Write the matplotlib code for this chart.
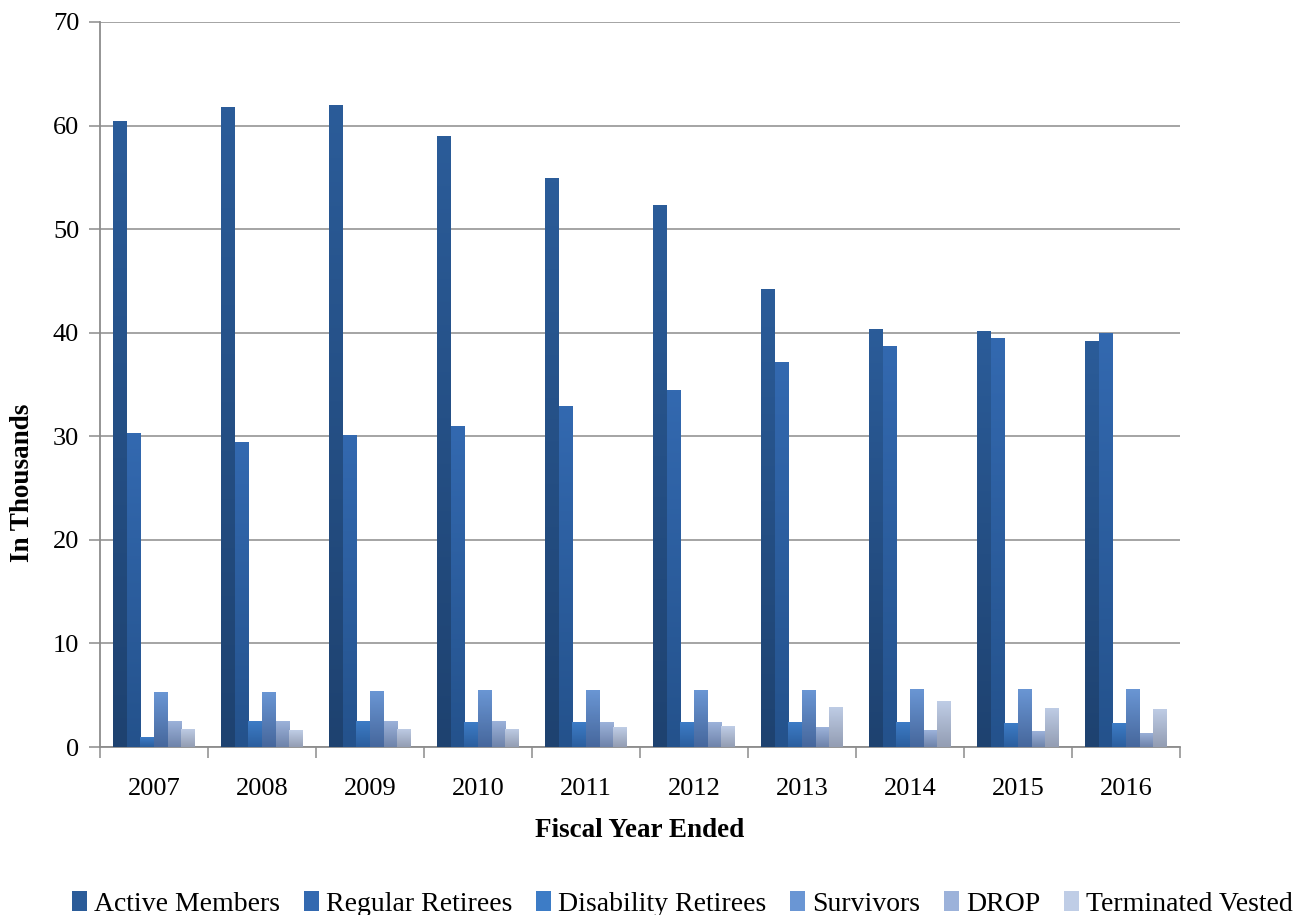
import numpy as np
import matplotlib
matplotlib.use("Agg")
import matplotlib.pyplot as plt
from matplotlib.colors import to_rgb
from matplotlib.patches import Patch

plt.rcParams['font.family'] = ['Liberation Serif', 'DejaVu Serif']

years = ['2007', '2008', '2009', '2010', '2011', '2012', '2013', '2014', '2015', '2016']
series = ['Active Members', 'Regular Retirees', 'Disability Retirees', 'Survivors', 'DROP', 'Terminated Vested']

active = [60.4, 61.8, 62.0, 59.0, 54.9, 52.3, 44.2, 40.4, 40.2, 39.2]
regular = [30.3, 29.4, 30.1, 31.0, 32.9, 34.5, 37.2, 38.7, 39.5, 40.0]
disability = [0.95, 2.5, 2.5, 2.4, 2.4, 2.4, 2.4, 2.4, 2.3, 2.3]
survivors = [5.3, 5.3, 5.4, 5.5, 5.5, 5.5, 5.5, 5.6, 5.6, 5.6]
drop = [2.5, 2.5, 2.5, 2.5, 2.4, 2.4, 1.9, 1.6, 1.5, 1.4]
terminated = [1.75, 1.6, 1.75, 1.75, 1.9, 2.0, 3.9, 4.4, 3.8, 3.7]

values = [active, regular, disability, survivors, drop, terminated]
# (top colour, bottom colour) for the gradient fill
colours = [('#2B5C99', '#1E4270'),
           ('#3369B0', '#24528C'),
           ('#3D7CC6', '#2B5E9E'),
           ('#6A96D4', '#46679C'),
           ('#9CB2DA', '#6E83AA'),
           ('#BFCDE6', '#939DB3')]

fig = plt.figure(figsize=(13.07, 9.15), dpi=100)
ax = fig.add_axes([100 / 1307, 1 - 747 / 915, 1080 / 1307, 725 / 915])

x = np.arange(len(years))
w = 0.127
n = len(series)

for i, (vals, (top, bot)) in enumerate(zip(values, colours)):
    bars = ax.bar(x + (i - (n - 1) / 2) * w, vals, width=w, color=bot, linewidth=0, zorder=2)
    t = np.array(to_rgb(top))
    b = np.array(to_rgb(bot))
    grad = np.linspace(0, 1, 64)[:, None, None]
    img = b + (t - b) * grad
    for p in bars:
        x0 = p.get_x()
        h = p.get_height()
        im = ax.imshow(img, extent=(x0, x0 + w, 0, h), origin='lower',
                       aspect='auto', zorder=3, interpolation='bilinear')
        im.set_clip_path(p)

ax.set_xlim(-0.5, len(years) - 0.5)
ax.set_ylim(0, 70)
ax.set_yticks(range(0, 71, 10))
ax.grid(axis='y', color='#8C8C8C', linewidth=1.1, zorder=1)
ax.set_axisbelow(True)

ax.set_xticks(np.arange(-0.5, len(years), 1.0))
ax.set_xticklabels([])
ax.set_xticks(x, minor=True)
ax.set_xticklabels(years, minor=True)
ax.tick_params(axis='x', which='minor', length=0, pad=22, labelsize=19)
ax.tick_params(axis='x', which='major', length=8, color='#8C8C8C', width=1.1)
ax.tick_params(axis='y', length=8, color='#8C8C8C', width=1.1, labelsize=19, pad=7)

for s in ['top', 'right']:
    ax.spines[s].set_visible(False)
for s in ['left', 'bottom']:
    ax.spines[s].set_color('#8C8C8C')
    ax.spines[s].set_linewidth(1.3)

ax.set_xlabel('Fiscal Year Ended', fontsize=19.5, fontweight='bold', labelpad=13)
ax.set_ylabel('In Thousands', fontsize=19.5, fontweight='bold')
ax.yaxis.set_label_coords(-0.060, 0.364)

handles = [Patch(facecolor=c[0], edgecolor='none') for c in colours]
fig.legend(handles, series, loc='lower center', bbox_to_anchor=(0.522, -0.029), ncol=6,
           frameon=False, fontsize=20, handlelength=0.55, handleheight=0.75,
           handletextpad=0.25, columnspacing=0.85)

fig.savefig('out.png', dpi=100)
